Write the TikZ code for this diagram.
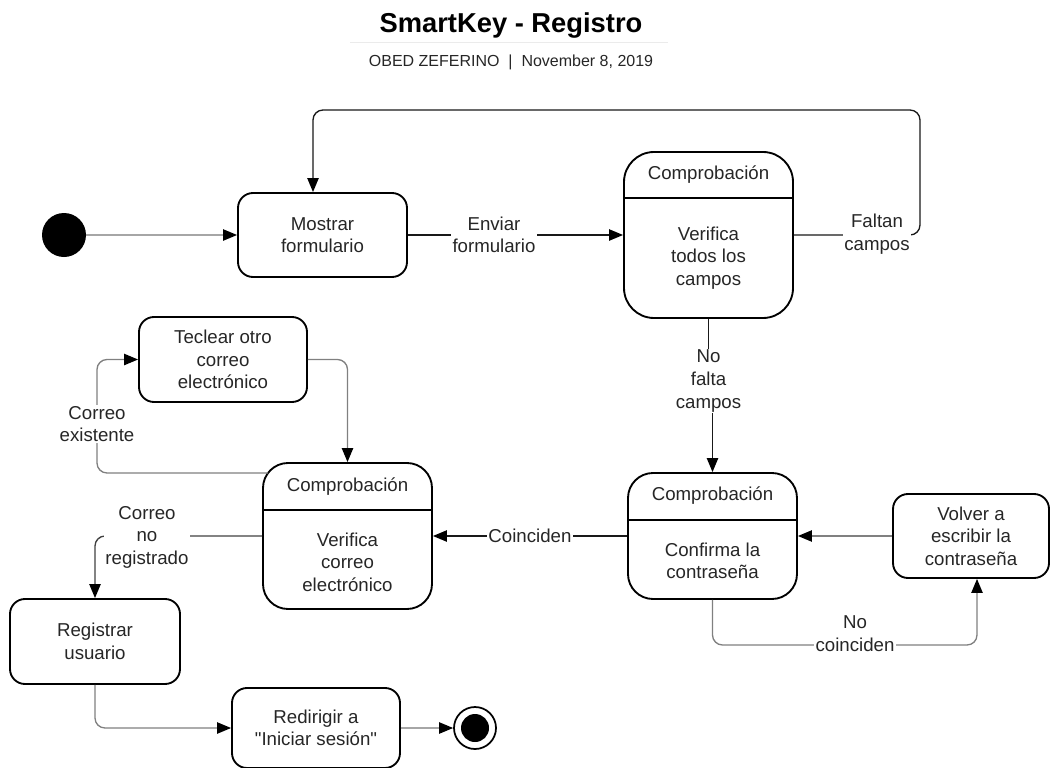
\documentclass[tikz,border=0pt]{standalone}
\usepackage{fontspec}
\setmainfont{Liberation Sans}[Ligatures=TeXOff]
\usetikzlibrary{arrows.meta,calc}
\newcommand\mytxt{\fontsize{14}{16.9}\selectfont}
\begin{document}
\begin{tikzpicture}[x=0.75pt,y=-0.75pt,
  box/.style={draw=black, line width=1.4pt, rounded corners=11.25pt, minimum width=126.75pt,
    minimum height=63pt, inner sep=0pt, align=center, font=\mytxt, text=black!85},
  cbox/.style={box, rounded corners=18.75pt},
  txt/.style={align=center, font=\mytxt, text=black!85, inner sep=1pt},
  lbl/.style={txt, fill=white, inner sep=1.2pt},
  cline/.style={draw=black!90, line width=1pt},
  gline/.style={draw=black!50, line width=1pt},
  arr/.style={-{Triangle[length=10.5pt,width=8.5pt,color=black]}},
  rc/.style={rounded corners=7.5pt}
]
\useasboundingbox (0,0) rectangle (1052,767);

% title
\node[anchor=base, font=\bfseries\fontsize{20.5}{24}\selectfont, text=black] (title) at (511,33) {SmartKey - Registro};
\draw[black!8, line width=0.75pt] (350,43) -- (668,43);
\node[anchor=base, font=\fontsize{12}{14}\selectfont, text=black!85] (sub) at (511,66) {OBED ZEFERINO\ \ |\ \ November 8, 2019};

% start / end
\node[circle, fill=black, minimum size=33pt, inner sep=0pt] (start) at (64,235) {};
\node[circle, draw=black, line width=1.3pt, minimum size=31.5pt, inner sep=0pt] (endc) at (475,728) {};
\node[circle, fill=black, minimum size=21pt, inner sep=0pt] (endin) at (475,728) {};

% simple boxes
\node[box] (mos) at (322.5,235) {Mostrar\\formulario};
\node[box, minimum width=126pt, minimum height=63.75pt] (tec) at (223,359.5) {Teclear otro\\correo\\electrónico};
\node[box, minimum width=117pt] (vol) at (971,536) {Volver a\\escribir la\\contraseña};
\node[box, minimum width=127.5pt, minimum height=63.75pt] (reg) at (95,641.5) {Registrar\\usuario};
\node[box, minimum width=126pt, minimum height=60pt] (red) at (316,728) {Redirigir a\\"Iniciar sesión"};

% comprobacion boxes
\node[cbox, rounded corners=22.5pt, minimum height=124.5pt] (c1) at (708.5,235) {};
\draw[black, line width=1.2pt] (c1.west |- 0,198) -- (c1.east |- 0,198);
\node[txt] (c1h) at (708.5,175) {Comprobación};
\node[txt] (c1b) at (708.5,258) {Verifica\\todos los\\campos};

\node[cbox, minimum height=94.5pt] (c2) at (712.5,536) {};
\draw[black, line width=1.2pt] (c2.west |- 0,520) -- (c2.east |- 0,520);
\node[txt] (c2h) at (712.5,496) {Comprobación};
\node[txt] (c2b) at (712.5,561) {Confirma la\\contraseña};

\node[cbox, minimum height=109.5pt] (c3) at (347.5,536) {};
\draw[black, line width=1.2pt] (c3.west |- 0,510) -- (c3.east |- 0,510);
\node[txt] (c3h) at (347.5,487) {Comprobación};
\node[txt] (c3b) at (347.5,562) {Verifica\\correo\\electrónico};

% connectors
\draw[gline, draw=black!35, arr] (start) -- (mos);
\draw[cline, arr] (mos) -- (c1);
\node[lbl] (lenv) at (494,235) {Enviar\\formulario};

\coordinate (lpA) at (920,110);
\coordinate (lpB) at (313,110);
\draw[cline, arr, rc] (c1.east) -| (lpA) -- (lpB) -- (lpB |- mos.north);
\node[lbl] (lfal) at (877,234) {Faltan\\campos};

\node[txt] (lnf) at (708.5,381) {No\\falta\\campos};
\draw[cline] (c1.south) -- (c1.south |- lnf.north);
\draw[cline, arr] (c2.north |- lnf.south) -- (c2.north);

\draw[cline, arr] (c2.west) -- (c3.east);
\node[lbl, inner sep=1pt] (lcoin) at (530,536) {Coinciden};

\draw[gline, arr] (vol.west) -- (c2.east);

\coordinate (ncR) at (977,645);
\draw[gline, arr, rc] (c2.south) |- (ncR) -- (ncR |- vol.south);
\node[lbl, inner sep=1pt] (lnc) at (855,633.5) {No\\coinciden};

\coordinate (ce) at (268,473);
\coordinate (ceL) at (97,473);
\draw[gline, arr, rc] (ce) -- (ceL) |- (tec.west);
\node[lbl] (lex) at (97,424) {Correo\\existente};

\draw[gline, arr, rc] (tec.east) -| (c3.north);

\draw[cline, draw=black!75, arr, rc] (c3.west) -| (reg.north);
\node[lbl] (lnr) at (147,537) {Correo\\no\\registrado};

\draw[gline, arr, rc] (reg.south) |- (red.west);
\draw[gline, draw=black!35, arr] (red.east) -- (endc);
\end{tikzpicture}
\end{document}
